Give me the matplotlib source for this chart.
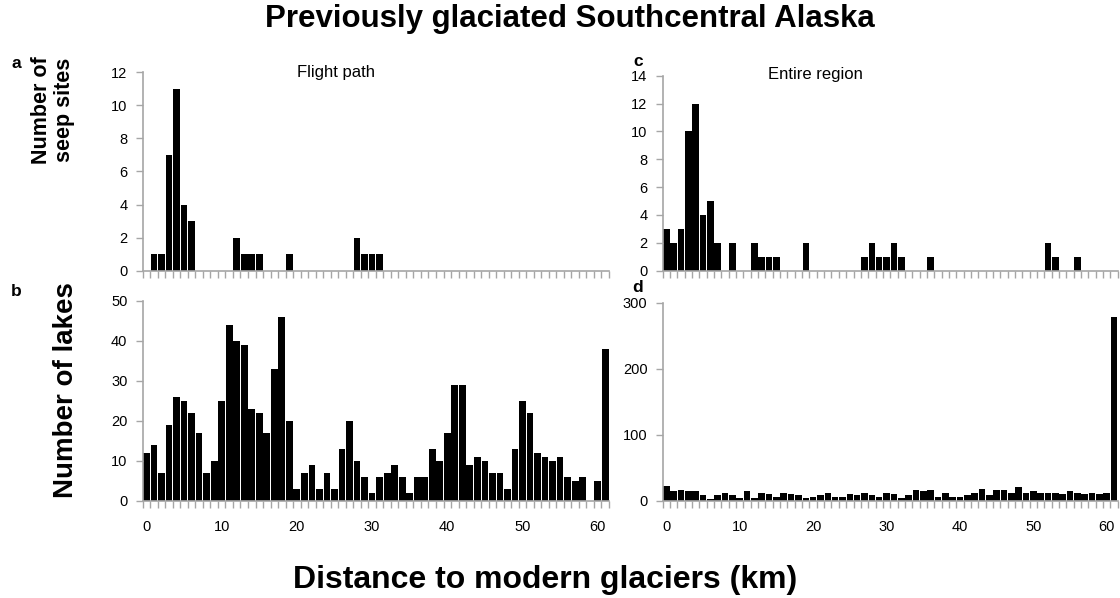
import numpy as np
import matplotlib
matplotlib.use("Agg")
import matplotlib.pyplot as plt

plt.rcParams['font.family'] = ['Liberation Sans', 'DejaVu Sans']

# distance classes (km), 0..61
dist = np.arange(62)
tick_labels = [0, 10, 20, 30, 40, 50, 60]

# a: seep sites, flight path
seeps_flight = [0, 1, 1, 7, 11, 4, 3, 0, 0, 0, 0, 0, 2, 1, 1, 1, 0, 0, 0, 1,
                0, 0, 0, 0, 0, 0, 0, 0, 2, 1, 1, 1, 0, 0, 0, 0, 0, 0, 0, 0,
                0, 0, 0, 0, 0, 0, 0, 0, 0, 0, 0, 0, 0, 0, 0, 0, 0, 0, 0, 0,
                0, 0]
# b: lakes, flight path
lakes_flight = [12, 14, 7, 19, 26, 25, 22, 17, 7, 10, 25, 44, 40, 39, 23, 22, 17, 33, 46, 20,
                3, 7, 9, 3, 7, 3, 13, 20, 10, 6, 2, 6, 7, 9, 6, 2, 6, 6, 13, 10,
                17, 29, 29, 9, 11, 10, 7, 7, 3, 13, 25, 22, 12, 11, 10, 11, 6, 5, 6, 0,
                5, 38]
# c: seep sites, entire region
seeps_region = [3, 2, 3, 10, 12, 4, 5, 2, 0, 2, 0, 0, 2, 1, 1, 1, 0, 0, 0, 2,
                0, 0, 0, 0, 0, 0, 0, 1, 2, 1, 1, 2, 1, 0, 0, 0, 1, 0, 0, 0,
                0, 0, 0, 0, 0, 0, 0, 0, 0, 0, 0, 0, 2, 1, 0, 0, 1, 0, 0, 0,
                0, 0]
# d: lakes, entire region
lakes_region = [22, 15, 16, 15, 15, 9, 3, 9, 12, 9, 4, 15, 4, 12, 10, 6, 12, 10, 9, 4,
                6, 9, 12, 6, 6, 10, 9, 12, 9, 6, 12, 10, 4, 9, 16, 15, 16, 6, 12, 6,
                6, 9, 12, 18, 9, 16, 16, 12, 21, 12, 15, 12, 12, 12, 10, 15, 12, 10, 12, 10,
                12, 278]

W, H = 1120, 598
fig = plt.figure(figsize=(W / 100, H / 100), dpi=100)


def px_axes(x0, x1, ytop, ybot):
    return fig.add_axes([x0 / W, (H - ybot) / H, (x1 - x0) / W, (ybot - ytop) / H])


def style(ax, vals, ymax, ystep, show_labels):
    ax.bar(dist, vals, width=0.9, color='black')
    ax.set_xlim(-0.5, 61.5)
    ax.set_ylim(0, ymax)
    ax.set_yticks(np.arange(0, ymax + 1, ystep))
    for s in ['top', 'right']:
        ax.spines[s].set_visible(False)
    for s in ['left', 'bottom']:
        ax.spines[s].set_color('#a6a6a6')
        ax.spines[s].set_linewidth(1.2)
    ax.set_xticks(np.arange(-0.5, 62, 1))
    ax.set_xticklabels([])
    ax.tick_params(axis='x', which='major', length=5, color='#a6a6a6', width=1)
    ax.tick_params(axis='y', length=5, color='#a6a6a6', width=1, labelsize=10.5, pad=6)
    if show_labels:
        ax.set_xticks(tick_labels, minor=True)
        ax.set_xticklabels([str(t) for t in tick_labels], minor=True)
        ax.tick_params(axis='x', which='minor', length=0, labelsize=10.5, pad=14)


ax_a = px_axes(142.7, 609, 72.3, 270.7)
style(ax_a, seeps_flight, 12, 2, False)
ax_b = px_axes(142.7, 609, 301, 500.5)
style(ax_b, lakes_flight, 50, 10, True)
ax_c = px_axes(662.7, 1117.7, 75.7, 270.7)
style(ax_c, seeps_region, 14, 2, False)
ax_d = px_axes(662.7, 1117.7, 302.7, 500.7)
style(ax_d, lakes_region, 300, 100, True)

fig.text(336 / W, 1 - 72 / H, 'Flight path', ha='center', va='center', fontsize=12)
fig.text(815 / W, 1 - 75 / H, 'Entire region', ha='center', va='center', fontsize=12)

fig.text(570 / W, 1 - 19 / H, 'Previously glaciated Southcentral Alaska',
         ha='center', va='center', fontsize=22.5, fontweight='bold')
fig.text(545 / W, 1 - 580 / H, 'Distance to modern glaciers (km)',
         ha='center', va='center', fontsize=23, fontweight='bold')
fig.text(53 / W, 1 - 110 / H, 'Number of\nseep sites', rotation=90,
         ha='center', va='center', fontsize=15.5, fontweight='bold', linespacing=1.15)
fig.text(66 / W, 1 - 390 / H, 'Number of lakes', rotation=90,
         ha='center', va='center', fontsize=20, fontweight='bold')

for lab, x, y in [('a', 16, 63), ('b', 16, 292), ('c', 638, 62), ('d', 638, 288)]:
    fig.text(x / W, 1 - y / H, lab, ha='center', va='center', fontsize=12.5, fontweight='bold')

fig.savefig('out.png', dpi=100)
